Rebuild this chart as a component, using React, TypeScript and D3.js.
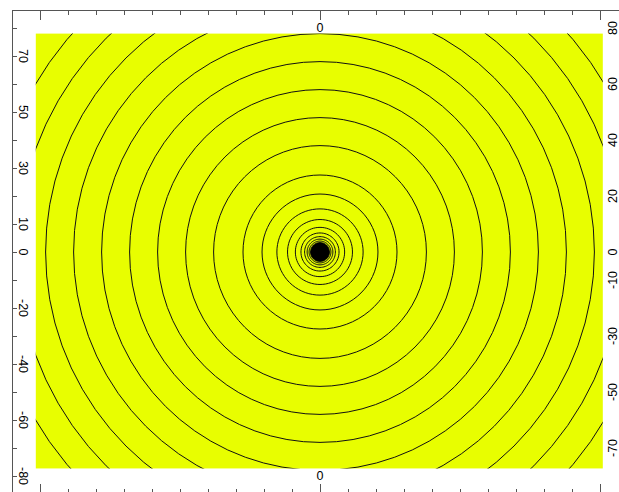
import React, { useEffect, useRef } from 'react';
import * as d3 from 'd3';

// contour radii (data units), outer to inner
const contourRadii = [118, 108, 98, 88, 78, 68, 58, 48, 38, 27.5, 20.7, 15.4, 11.6, 8.8, 6.8, 5.5, 4.6, 3.9,
  3.4, 3.0, 2.6, 2.3, 2.0, 1.7, 1.4, 1.1, 0.8, 0.5, 0.25];

// field extent (data units)
const fieldX = [-101.5, 101];
const fieldY = [-77.3, 78];

// frame extent
const frameX = [-110, 110];
const frameY = [-86.4, 86.4];

const xTicks = d3.range(-110, 111, 10);
const xMajor = [-100, 0, 100];
const xLabels = [0];
const yTicks = d3.range(-80, 81, 10);
const leftLabels = [70, 50, 30, 10, 0, -20, -40, -60, -80];
const rightLabels = [80, 60, 40, 20, 0, -10, -30, -50, -70];

const W = 619;
const H = 492;

export default function App() {
  const ref = useRef<SVGSVGElement>(null);

  useEffect(() => {
    const svg = d3.select(ref.current);
    svg.selectAll('*').remove();

    const x = d3.scaleLinear().domain([-100, 100]).range([40, 600]);
    const y = d3.scaleLinear().domain([-80, 80]).range([476, 28]);
    const font = '"Liberation Sans", Arial, sans-serif';
    const axisColor = '#555';

    // yellow field
    svg.append('clipPath').attr('id', 'field-clip')
      .append('rect')
      .attr('x', x(fieldX[0])).attr('y', y(fieldY[1]))
      .attr('width', x(fieldX[1]) - x(fieldX[0]))
      .attr('height', y(fieldY[0]) - y(fieldY[1]));

    svg.append('rect')
      .attr('x', x(fieldX[0])).attr('y', y(fieldY[1]))
      .attr('width', x(fieldX[1]) - x(fieldX[0]))
      .attr('height', y(fieldY[0]) - y(fieldY[1]))
      .attr('fill', '#e8fe00');

    // contours, drawn as slightly polygonal rings like a gridded contour
    const angles = d3.range(0, 2 * Math.PI, (2 * Math.PI) / 72);
    const ring = d3.line<number>()
      .curve(d3.curveLinearClosed);
    const g = svg.append('g').attr('clip-path', 'url(#field-clip)');
    g.selectAll('path.contour')
      .data(contourRadii)
      .join('path')
      .attr('class', 'contour')
      .attr('d', r => ring(angles.map(a => [x(r * Math.cos(a)), y(r * Math.sin(a))]) as any))
      .attr('fill', 'none')
      .attr('stroke', '#111')
      .attr('stroke-width', 1);
    // dense core
    g.append('circle')
      .attr('cx', x(0)).attr('cy', y(0))
      .attr('r', x(3.4) - x(0))
      .attr('fill', '#000');

    // frame lines
    const fx0 = x(frameX[0]), fx1 = x(frameX[1]);
    const fy0 = y(frameY[1]), fy1 = y(frameY[0]);
    const frame = svg.append('g').attr('stroke', axisColor).attr('stroke-width', 1).attr('shape-rendering', 'crispEdges');
    frame.append('line').attr('x1', fx0).attr('x2', fx1).attr('y1', fy0).attr('y2', fy0);
    frame.append('line').attr('x1', fx0).attr('x2', fx1).attr('y1', fy1).attr('y2', fy1);
    frame.append('line').attr('x1', fx0).attr('x2', fx0).attr('y1', fy0).attr('y2', fy1);
    frame.append('line').attr('x1', fx1).attr('x2', fx1).attr('y1', fy0).attr('y2', fy1);

    // top / bottom ticks
    xTicks.forEach(t => {
      const len = xMajor.includes(t) ? 10 : 5;
      frame.append('line').attr('x1', x(t)).attr('x2', x(t)).attr('y1', fy0).attr('y2', fy0 + len);
      frame.append('line').attr('x1', x(t)).attr('x2', x(t)).attr('y1', fy1).attr('y2', fy1 - len);
    });
    // left / right ticks
    yTicks.forEach(t => {
      frame.append('line').attr('x1', fx0).attr('x2', fx0 + 5).attr('y1', y(t)).attr('y2', y(t));
      frame.append('line').attr('x1', fx1).attr('x2', fx1 - 5).attr('y1', y(t)).attr('y2', y(t));
    });

    const labels = svg.append('g')
      .style('font-family', font)
      .style('font-size', '12.5px')
      .attr('fill', '#000')
      .attr('text-anchor', 'middle')
      .attr('dominant-baseline', 'central');

    xLabels.forEach(t => {
      labels.append('text').attr('x', x(t)).attr('y', y(80)).text(t);
      labels.append('text').attr('x', x(t)).attr('y', y(-80)).text(t);
    });
    leftLabels.forEach(t => {
      labels.append('text')
        .attr('transform', `translate(${fx0 + 11},${y(t)}) rotate(90)`)
        .text(t);
    });
    rightLabels.forEach(t => {
      labels.append('text')
        .attr('transform', `translate(${fx1 - 15},${y(t)}) rotate(-90)`)
        .text(t);
    });
  }, []);

  return (
    <svg
      ref={ref}
      width={W}
      height={H}
      style={{ position: 'fixed', left: 0, top: 0, background: '#fff' }}
    />
  );
}
